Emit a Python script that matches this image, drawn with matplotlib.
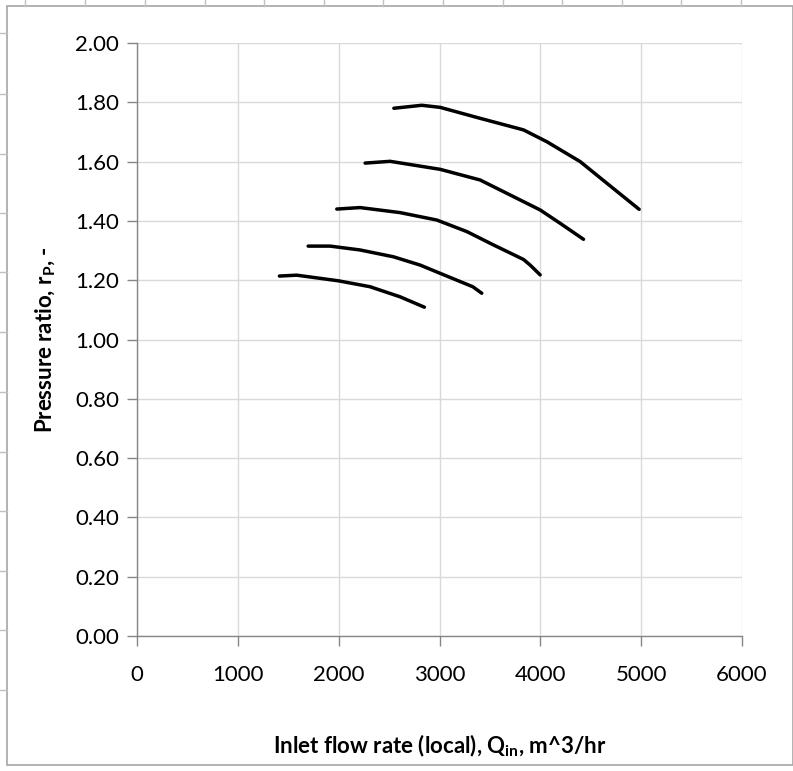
import matplotlib.pyplot as plt
from matplotlib.lines import Line2D
from matplotlib.patches import Rectangle

plt.rcParams['font.family'] = ['Lato', 'DejaVu Sans']
plt.rcParams['mathtext.fontset'] = 'custom'
plt.rcParams['mathtext.rm'] = 'Lato:bold'
plt.rcParams['mathtext.bf'] = 'Lato:bold'

# Data (flow rate m^3/hr, pressure ratio)
q1 = [1412, 1584, 1997, 2311, 2609, 2850]
rp1 = [1.214, 1.217, 1.198, 1.178, 1.144, 1.109]

q2 = [1697, 1915, 2212, 2543, 2808, 3072, 3330, 3419]
rp2 = [1.315, 1.315, 1.302, 1.279, 1.251, 1.214, 1.178, 1.156]

q3 = [1981, 2212, 2609, 2973, 3271, 3535, 3833, 3899, 3998]
rp3 = [1.440, 1.445, 1.428, 1.403, 1.364, 1.319, 1.270, 1.251, 1.218]

q4 = [2262, 2510, 3006, 3403, 3733, 3998, 4196, 4428]
rp4 = [1.595, 1.601, 1.574, 1.538, 1.482, 1.437, 1.392, 1.338]

q5 = [2547, 2824, 3006, 3403, 3833, 4065, 4395, 4660, 4980]
rp5 = [1.780, 1.790, 1.783, 1.746, 1.707, 1.667, 1.600, 1.527, 1.439]

curves = [(q1, rp1), (q2, rp2), (q3, rp3), (q4, rp4), (q5, rp5)]

fig = plt.figure(figsize=(7.93, 7.71), dpi=100)
ax = fig.add_axes([0.1728, 0.1751, 0.7629, 0.7691])

for q, rp in curves:
    ax.plot(q, rp, color='black', lw=2.5, solid_capstyle='round', solid_joinstyle='round')

ax.set_xlim(0, 6000)
ax.set_ylim(0, 2.0)
ax.set_xticks(range(0, 6001, 1000))
ax.set_yticks([i * 0.2 for i in range(11)])
ax.set_yticklabels(['%.2f' % (i * 0.2) for i in range(11)])
ax.grid(True, color='#d9d9d9', lw=1)
ax.set_axisbelow(True)

for s in ['top', 'right']:
    ax.spines[s].set_visible(False)
for s in ['left', 'bottom']:
    ax.spines[s].set_color('#868686')
    ax.spines[s].set_linewidth(1)
ax.tick_params(colors='#868686', labelcolor='black', length=7, width=1, labelsize=16, pad=6)
ax.tick_params(axis='x', pad=14)

ax.set_xlabel(r'Inlet flow rate (local), Q$_{\mathrm{in}}$, m^3/hr', fontsize=16, fontweight='bold', labelpad=34)
ax.set_ylabel(r'Pressure ratio, r$_{\mathrm{P}}$, -', fontsize=16, fontweight='bold', labelpad=12)

# spreadsheet frame around the chart
fig.add_artist(Rectangle((7 / 793, 1 - 765 / 771), 786 / 793, (765 - 6) / 771,
                         transform=fig.transFigure, fill=False, ec='#a6a6a6', lw=1.2))
for x in [25, 85, 145, 205, 264, 324, 383, 443, 503, 562, 622, 681, 741]:
    fig.add_artist(Line2D([x / 793, x / 793], [1, 1 - 6 / 771], transform=fig.transFigure, color='#c0c0c0', lw=1))
for y in [33, 94, 154, 213, 272, 332, 392, 452, 511, 571, 630, 690]:
    fig.add_artist(Line2D([0, 7 / 793], [1 - y / 771, 1 - y / 771], transform=fig.transFigure, color='#c0c0c0', lw=1))

fig.savefig('out.png', dpi=100)
